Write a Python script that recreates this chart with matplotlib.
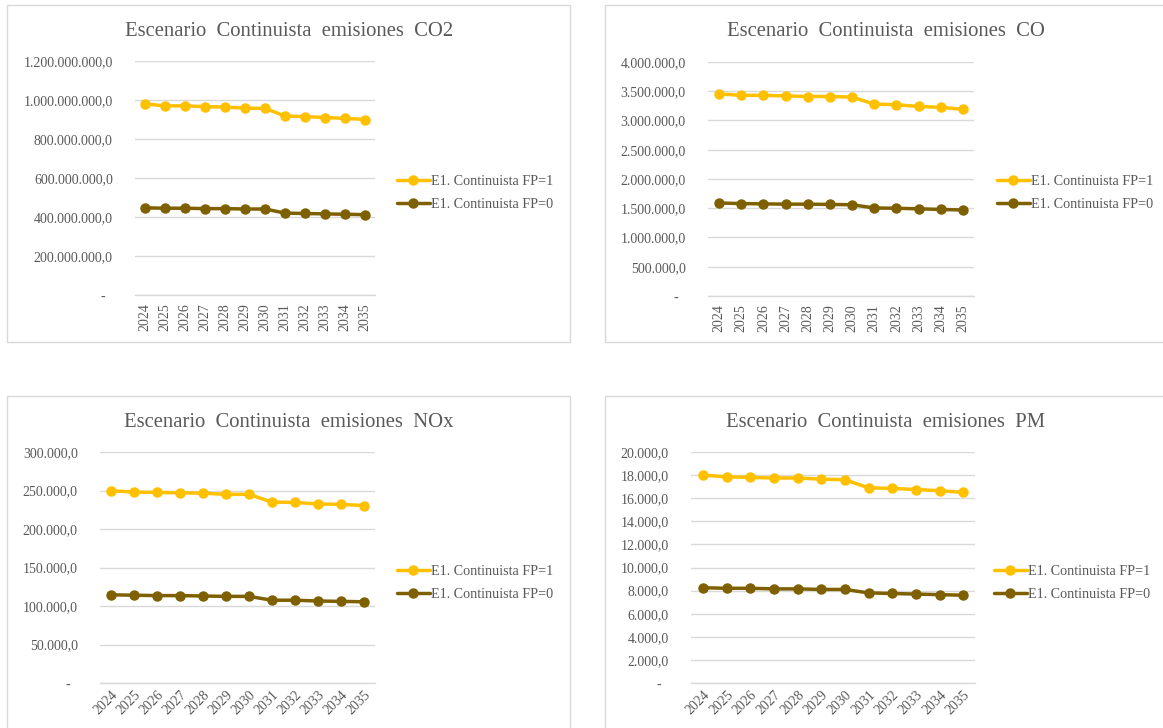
import matplotlib
matplotlib.use("Agg")
import matplotlib.pyplot as plt
from matplotlib.patches import Rectangle
from matplotlib.ticker import FuncFormatter

plt.rcParams['font.family'] = ['Liberation Serif', 'DejaVu Serif']

# ---- data ----
years = ['2024', '2025', '2026', '2027', '2028', '2029',
         '2030', '2031', '2032', '2033', '2034', '2035']

co2_fp1 = [980e6, 970e6, 970e6, 966e6, 964e6, 958e6, 957e6, 918e6, 915e6, 910e6, 906e6, 900e6]
co2_fp0 = [447e6, 445e6, 445e6, 443e6, 443e6, 441e6, 441e6, 420e6, 418e6, 416e6, 414e6, 412e6]

co_fp1 = [3.455e6, 3.430e6, 3.430e6, 3.420e6, 3.410e6, 3.410e6, 3.400e6, 3.280e6, 3.270e6, 3.240e6, 3.225e6, 3.190e6]
co_fp0 = [1.590e6, 1.580e6, 1.575e6, 1.570e6, 1.570e6, 1.565e6, 1.560e6, 1.505e6, 1.500e6, 1.490e6, 1.480e6, 1.470e6]

nox_fp1 = [249.5e3, 248.0e3, 247.5e3, 247.0e3, 246.5e3, 245.0e3, 245.0e3, 235.0e3, 234.5e3, 232.5e3, 232.0e3, 230.5e3]
nox_fp0 = [114.5e3, 114.0e3, 113.5e3, 113.5e3, 113.0e3, 112.5e3, 112.5e3, 107.5e3, 107.5e3, 106.5e3, 106.0e3, 105.5e3]

pm_fp1 = [18.00e3, 17.85e3, 17.80e3, 17.75e3, 17.75e3, 17.65e3, 17.60e3, 16.90e3, 16.85e3, 16.75e3, 16.65e3, 16.50e3]
pm_fp0 = [8.25e3, 8.20e3, 8.20e3, 8.15e3, 8.15e3, 8.10e3, 8.10e3, 7.80e3, 7.75e3, 7.70e3, 7.65e3, 7.60e3]

series_labels = ['E1. Continuista FP=1', 'E1. Continuista FP=0']

titles = ['Escenario  Continuista  emisiones  CO2',
          'Escenario  Continuista  emisiones  CO',
          'Escenario  Continuista  emisiones  NOx',
          'Escenario  Continuista  emisiones  PM']

# ---- style ----
W, H = 1163, 728
GOLD = '#FFC000'
BROWN = '#7F6000'
TEXT = '#595959'
GRID = '#D9D9D9'
FS_TICK = 10
FS_LEG = 10.2

fig = plt.figure(figsize=(W / 100, H / 100), dpi=100)


def box(x0, y0, x1, y1):
    """Pixel box (top-left origin) -> figure fraction rect."""
    return [x0 / W, 1 - y1 / H, (x1 - x0) / W, (y1 - y0) / H]


def es_fmt(v, _pos):
    if abs(v) < 1e-9:
        return '-  '
    s = f"{v:,.1f}"
    return s.replace(',', '_').replace('.', ',').replace('_', '.')


panels = [
    # frame box, plot area, title centre, legend anchor, data, ylim, ystep, rotation
    dict(frame=(7, 5, 570, 342), area=(135, 61, 375, 295), tc=(289, 31),
         leg=(397, 193), data=(co2_fp1, co2_fp0), ymax=1.2e9, step=2e8, rot=90),
    dict(frame=(605, 5, 1200, 342), area=(708, 62, 974, 296), tc=(886, 31),
         leg=(997, 193), data=(co_fp1, co_fp0), ymax=4.0e6, step=5e5, rot=90),
    dict(frame=(7, 396, 570, 760), area=(100, 452, 375, 683), tc=(289, 422),
         leg=(397, 583), data=(nox_fp1, nox_fp0), ymax=3.0e5, step=5e4, rot=45),
    dict(frame=(605, 396, 1200, 760), area=(691, 452, 975, 683), tc=(886, 422),
         leg=(994, 583), data=(pm_fp1, pm_fp0), ymax=2.0e4, step=2e3, rot=45),
]

x = list(range(len(years)))

for p, title in zip(panels, titles):
    fx0, fy0, fx1, fy1 = p['frame']
    fig.patches.append(Rectangle((fx0 / W, 1 - fy1 / H), (fx1 - fx0) / W, (fy1 - fy0) / H,
                                 transform=fig.transFigure, facecolor='none',
                                 edgecolor=GRID, linewidth=1.0, zorder=-5))

    ax = fig.add_axes(box(*p['area']))
    ax.set_facecolor('none')
    hi, lo = p['data']
    l1, = ax.plot(x, hi, color=GOLD, lw=2.5, marker='o', ms=6.5, zorder=3,
                  solid_capstyle='round', label=series_labels[0])
    l2, = ax.plot(x, lo, color=BROWN, lw=2.5, marker='o', ms=6.5, zorder=3,
                  solid_capstyle='round', label=series_labels[1])

    ax.set_xlim(-0.5, len(years) - 0.5)
    ax.set_ylim(0, p['ymax'])
    n = int(round(p['ymax'] / p['step']))
    ax.set_yticks([i * p['step'] for i in range(n + 1)])
    ax.yaxis.set_major_formatter(FuncFormatter(es_fmt))
    ax.set_xticks(x)
    if p['rot'] == 90:
        ax.set_xticklabels(years, rotation=90, ha='center', va='top')
    else:
        ax.set_xticklabels(years, rotation=45, ha='right', va='top',
                           rotation_mode='anchor')

    ax.grid(axis='y', color=GRID, linewidth=1.0, zorder=0)
    ax.set_axisbelow(True)
    for side in ('top', 'right', 'left'):
        ax.spines[side].set_visible(False)
    ax.spines['bottom'].set_color(GRID)
    ax.spines['bottom'].set_linewidth(1.0)
    ax.tick_params(axis='both', length=0, labelsize=FS_TICK, labelcolor=TEXT)
    ax.tick_params(axis='y', pad=16)
    ax.tick_params(axis='x', pad=6 if p['rot'] == 90 else 4)

    fig.text(p['tc'][0] / W, 1 - p['tc'][1] / H, title, ha='center', va='center',
             fontsize=14.9, color=TEXT)

    lx, ly = p['leg']
    ax.legend(handles=[l1, l2], loc='center left',
              bbox_to_anchor=(lx / W, 1 - ly / H), bbox_transform=fig.transFigure,
              frameon=False, fontsize=FS_LEG, labelcolor=TEXT, handlelength=2.3,
              handletextpad=0.1, labelspacing=0.65, borderpad=0, borderaxespad=0)

fig.savefig('out.png', dpi=100, facecolor='white')
